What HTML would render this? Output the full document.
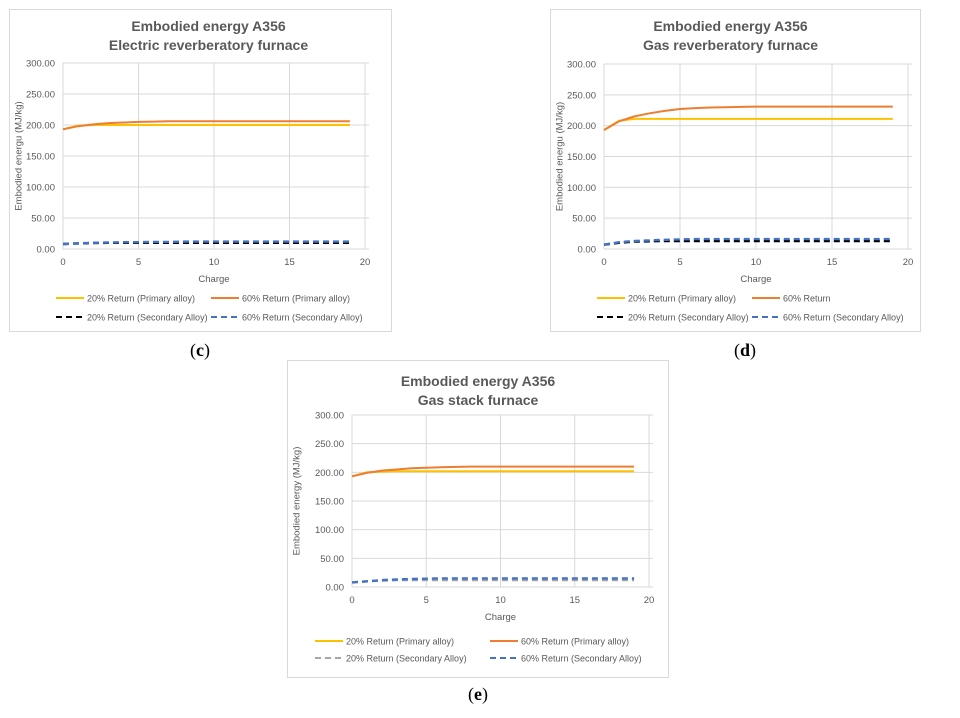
<!DOCTYPE html>
<html><head><meta charset="utf-8">
<style>
body{margin:0;background:#fff;width:960px;height:713px;overflow:hidden;font-family:"Liberation Sans",sans-serif;}
svg text{font-family:"Liberation Sans",sans-serif;}
svg text.cap{font-family:"Liberation Serif",serif;}
</style></head>
<body>
<svg id="root" width="960" height="713"></svg>
<script>
const charges = [0,1,2,3,4,5,6,7,8,9,10,11,12,13,14,15,16,17,18,19];
const yTicks = [0,50,100,150,200,250,300];
const xTicks = [0,5,10,15,20];
// Chart c
const cP20 = [193,199,200,200,200,200,200,200,200,200,200,200,200,200,200,200,200,200,200,200];
const cP60 = [193,198,201,203,204,205,205.5,206,206,206,206,206,206,206,206,206,206,206,206,206];
const cS20 = [8,9,9.5,10,10,10,10,10,10,10,10,10,10,10,10,10,10,10,10,10];
const cS60 = [8,9,10,10.5,11,11,11.5,11.5,12,12,12,12,12,12,12,12,12,12,12,12];
// Chart d
const dP20 = [193,208,211,211,211,211,211,211,211,211,211,211,211,211,211,211,211,211,211,211];
const dP60 = [193,207,215,220,224,227,228.5,229.5,230,230.5,231,231,231,231,231,231,231,231,231,231];
const dS20 = [7,10,12,12.5,13,13,13,13,13,13,13,13,13,13,13,13,13,13,13,13];
const dS60 = [7,11,13,14,15,15.5,16,16,16,16,16,16,16,16,16,16,16,16,16,16];
// Chart e
const eP20 = [193,200,201,202,202,202,202,202,202,202,202,202,202,202,202,202,202,202,202,202];
const eP60 = [193,199,203,205,207,208,209,209.5,210,210,210,210,210,210,210,210,210,210,210,210];
const eS20 = [8,10,11,12,12,12,12,12,12,12,12,12,12,12,12,12,12,12,12,12];
const eS60 = [8,10,12,13,14,14.5,15,15,15,15,15,15,15,15,15,15,15,15,15,15];

const NS="http://www.w3.org/2000/svg";
const root=document.getElementById('root');
function mk(tag,attrs,parent){const e=document.createElementNS(NS,tag);for(const k in attrs)e.setAttribute(k,attrs[k]);(parent||root).appendChild(e);return e;}

function chart(cfg){
  const g=mk('g',{});
  
  
  const bg=mk('rect',{x:cfg.bx,y:cfg.by,width:cfg.bw,height:cfg.bh,fill:'#fff',stroke:'#d9d9d9','stroke-width':1},g);
  
  
  const sx=v=>cfg.x0+(cfg.x1-cfg.x0)*v/20;
  const sy=v=>cfg.y0+(cfg.y1-cfg.y0)*v/300;
  const tcx=(cfg.bx+cfg.bw/2)+cfg.tdx;
  [cfg.t1,cfg.t2].forEach((t,i)=>{
    const tt=mk('text',{x:tcx,y:cfg.ty+i*19,'text-anchor':'middle','font-size':14,'font-weight':'bold',fill:'#595959'},g);
    tt.textContent=t;
    
    
  });
  yTicks.forEach(v=>{
    const l=mk('line',{x1:cfg.x0,x2:cfg.x1+4,y1:sy(v),y2:sy(v),stroke:'#d9d9d9'},g);
    
    
    const t=mk('text',{x:cfg.x0-8,y:sy(v)+3.5,'text-anchor':'end','font-size':9.5,fill:'#595959'},g);
    t.textContent=v.toFixed(2);
    
    
  });
  xTicks.forEach(v=>{
    const l=mk('line',{x1:sx(v),x2:sx(v),y1:cfg.y1,y2:cfg.y0,stroke:'#d9d9d9'},g);
    
    
    const t=mk('text',{x:sx(v),y:cfg.y0+16,'text-anchor':'middle','font-size':9.5,fill:'#595959'},g);
    t.textContent=v;
    
    
  });
  const xl=mk('text',{x:(cfg.x0+cfg.x1)/2,y:cfg.y0+33,'text-anchor':'middle','font-size':9.5,fill:'#595959'},g);
  xl.textContent='Charge';
  
  
  const ym=(cfg.y0+cfg.y1)/2;
  const yl=mk('text',{x:cfg.bx+12,y:ym,'text-anchor':'middle','font-size':9.5,fill:'#595959',transform:`rotate(-90 ${cfg.bx+12} ${ym})`},g);
  yl.textContent=cfg.ylabel;
  
  
  cfg.series.forEach(s=>{
    const pts=charges.map((c,i)=>sx(c).toFixed(1)+','+sy(s.data[i]).toFixed(1)).join(' ');
    const p=mk('polyline',{points:pts,fill:'none',stroke:s.color,'stroke-width':s.dash?2.4:2,'stroke-dasharray':s.dash||'none'},g);
    
    
  });
  cfg.series.forEach((s,i)=>{
    const lx=cfg.lx[i%2], ly=cfg.ly[Math.floor(i/2)];
    const l=mk('line',{x1:lx,x2:lx+28,y1:ly,y2:ly,stroke:s.color,'stroke-width':2,'stroke-dasharray':s.dash||'none'},g);
    
    
    const t=mk('text',{x:lx+31,y:ly+3.5,'font-size':9,fill:'#595959'},g);
    t.textContent=s.label;
    
    
  });
  const cap=mk('text',{x:cfg.capx,y:cfg.capy,'text-anchor':'middle','font-size':18,fill:'#000','class':'cap'},g);
  cap.innerHTML='(<tspan font-weight="bold">'+cfg.cap+'</tspan>)';
  
  
}

chart({name:'chart-c',bx:9.5,by:9.5,bw:382,bh:322,tdx:8,ty:31,t1:'Embodied energy A356',t2:'Electric reverberatory furnace',
  x0:63,x1:365,y0:249,y1:63,ylabel:'Embodied energu (MJ/kg)',lx:[56,211],ly:[298,317],capx:200,capy:356,cap:'c',
  series:[
   {id:'line-20-primary',data:cP20,color:'#ffc000',label:'20% Return (Primary alloy)'},
   {id:'line-60-primary',data:cP60,color:'#ed7d31',label:'60% Return (Primary alloy)'},
   {id:'line-20-secondary',data:cS20,color:'#000',dash:'6,4',label:'20% Return (Secondary Alloy)'},
   {id:'line-60-secondary',data:cS60,color:'#4472c4',dash:'6,4',label:'60% Return (Secondary Alloy)'}]});
chart({name:'chart-d',bx:550.5,by:9.5,bw:370,bh:322,tdx:-5,ty:31,t1:'Embodied energy A356',t2:'Gas reverberatory furnace',
  x0:604,x1:908,y0:249,y1:64,ylabel:'Embodied energu (MJ/kg)',lx:[597,752],ly:[298,317],capx:745,capy:356,cap:'d',
  series:[
   {id:'line-20-primary',data:dP20,color:'#ffc000',label:'20% Return (Primary alloy)'},
   {id:'line-60-primary',data:dP60,color:'#ed7d31',label:'60% Return'},
   {id:'line-20-secondary',data:dS20,color:'#000',dash:'6,4',label:'20% Return (Secondary Alloy)'},
   {id:'line-60-secondary',data:dS60,color:'#4472c4',dash:'6,4',label:'60% Return (Secondary Alloy)'}]});
chart({name:'chart-e',bx:287.5,by:360.5,bw:381,bh:317,tdx:0,ty:386,t1:'Embodied energy A356',t2:'Gas stack furnace',
  x0:352,x1:649,y0:587,y1:415,ylabel:'Embodied energy (MJ/kg)',lx:[315,490],ly:[641,658],capx:478,capy:700,cap:'e',
  series:[
   {id:'line-20-primary',data:eP20,color:'#ffc000',label:'20% Return (Primary alloy)'},
   {id:'line-60-primary',data:eP60,color:'#ed7d31',label:'60% Return (Primary alloy)'},
   {id:'line-20-secondary',data:eS20,color:'#a5a5a5',dash:'6,4',label:'20% Return (Secondary Alloy)'},
   {id:'line-60-secondary',data:eS60,color:'#4472c4',dash:'6,4',label:'60% Return (Secondary Alloy)'}]});
</script>
</body></html>
